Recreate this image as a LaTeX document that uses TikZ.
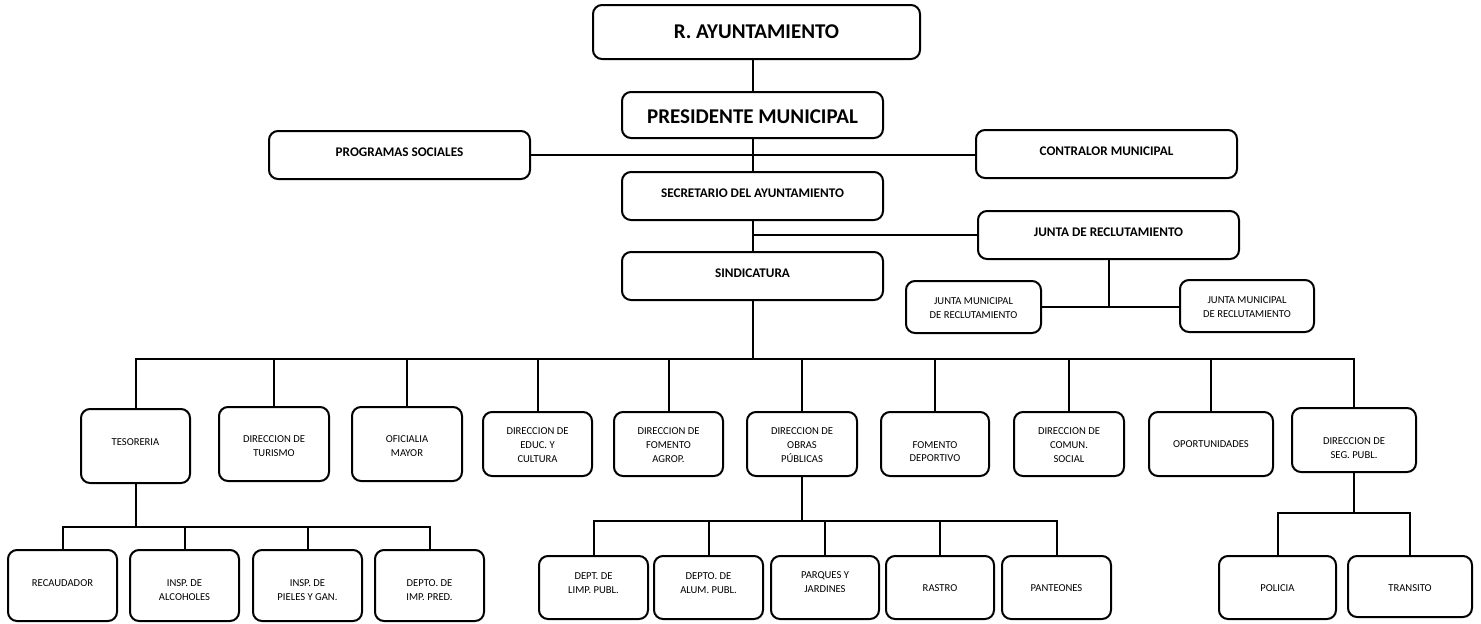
\documentclass[tikz,border=0pt]{standalone}
\usepackage{fontspec}
\setmainfont{Carlito}
\begin{document}
\begin{tikzpicture}[x=1pt,y=-1pt,
  box/.style={draw, line width=2pt, rounded corners=9pt, inner sep=0pt, fill=white},
  conn/.style={line width=2pt},
  bigt/.style={inner sep=0pt, font=\bfseries\fontsize{21}{25}\selectfont},
  midt/.style={inner sep=0pt, font=\bfseries\fontsize{13.2}{16}\selectfont},
  smt/.style={inner sep=0pt, align=center, font=\fontsize{10.6}{13.6}\selectfont}]
\useasboundingbox (0,0) rectangle (1481,624);
\fill[white] (0,0) rectangle (1481,624);

% top column
\node[box, minimum width=327pt, minimum height=54pt] (ayun) at (756.5,32) {};
\node[bigt] (ayunt) at (756.5,32) {R. AYUNTAMIENTO};
\node[box, minimum width=261pt, minimum height=46pt] (pres) at (752.5,115) {};
\node[bigt] (prest) at (752.5,117) {PRESIDENTE MUNICIPAL};
\node[box, minimum width=261pt, minimum height=48pt] (prog) at (399.5,155) {};
\node[midt] (progt) at (399.5,152) {PROGRAMAS SOCIALES};
\node[box, minimum width=261pt, minimum height=48pt] (contr) at (1106.5,154) {};
\node[midt] (contrt) at (1106.5,151) {CONTRALOR MUNICIPAL};
\node[box, minimum width=261pt, minimum height=48pt] (secr) at (752.5,196) {};
\node[midt] (secrt) at (752.5,193) {SECRETARIO DEL AYUNTAMIENTO};
\node[box, minimum width=261pt, minimum height=48pt] (junta) at (1108.5,235) {};
\node[midt] (juntat) at (1108.5,232) {JUNTA DE RECLUTAMIENTO};
\node[box, minimum width=261pt, minimum height=48pt] (sind) at (752.5,276) {};
\node[midt] (sindt) at (752.5,273) {SINDICATURA};
\node[box, minimum width=135pt, minimum height=52pt] (jm1) at (973.5,307) {};
\node[smt] (jm1t) at (973.5,308) {JUNTA MUNICIPAL\\DE RECLUTAMIENTO};
\node[box, minimum width=134pt, minimum height=52pt] (jm2) at (1247,306) {};
\node[smt] (jm2t) at (1247,307) {JUNTA MUNICIPAL\\DE RECLUTAMIENTO};

% second tier
\node[box, minimum width=109pt, minimum height=74pt] (tes) at (135.5,446) {};
\node[smt] (test) at (135.5,442) {TESORERIA};
\node[box, minimum width=110pt, minimum height=74pt] (tur) at (274,444) {};
\node[smt] (turt) at (274,446) {DIRECCION DE\\TURISMO};
\node[box, minimum width=110pt, minimum height=74pt] (ofi) at (407,444) {};
\node[smt] (ofit) at (407,446) {OFICIALIA\\MAYOR};
\node[box, minimum width=109pt, minimum height=64pt] (edu) at (537.5,444) {};
\node[smt] (edut) at (537.5,445) {DIRECCION DE\\EDUC. Y\\CULTURA};
\node[box, minimum width=109pt, minimum height=64pt] (agr) at (668.5,444) {};
\node[smt] (agrt) at (668.5,445) {DIRECCION DE\\FOMENTO\\AGROP.};
\node[box, minimum width=110pt, minimum height=64pt] (obr) at (802,444) {};
\node[smt] (obrt) at (802,445) {DIRECCION DE\\OBRAS\\PÚBLICAS};
\node[box, minimum width=108pt, minimum height=64pt] (dep) at (935,444) {};
\node[smt] (dept) at (935,451.5) {FOMENTO\\DEPORTIVO};
\node[box, minimum width=110pt, minimum height=64pt] (com) at (1069,444) {};
\node[smt] (comt) at (1069,445) {DIRECCION DE\\COMUN.\\SOCIAL};
\node[box, minimum width=124pt, minimum height=64pt] (opo) at (1211,444) {};
\node[smt] (opot) at (1211,444) {OPORTUNIDADES};
\node[box, minimum width=124pt, minimum height=64pt] (seg) at (1354,440) {};
\node[smt] (segt) at (1354,448) {DIRECCION DE\\SEG. PUBL.};

% third tier
\node[box, minimum width=109pt, minimum height=71pt] (rec) at (62.5,585.5) {};
\node[smt] (rect) at (62.5,583) {RECAUDADOR};
\node[box, minimum width=109pt, minimum height=71pt] (alc) at (184.5,585.5) {};
\node[smt] (alct) at (184.5,590) {INSP. DE\\ALCOHOLES};
\node[box, minimum width=109pt, minimum height=71pt] (pie) at (307.5,585.5) {};
\node[smt] (piet) at (307.5,590) {INSP. DE\\PIELES Y GAN.};
\node[box, minimum width=109pt, minimum height=71pt] (imp) at (429.5,585.5) {};
\node[smt] (impt) at (429.5,590) {DEPTO. DE\\IMP. PRED.};

\node[box, minimum width=109pt, minimum height=63pt] (limp) at (593.5,587.5) {};
\node[smt] (limpt) at (593.5,583) {DEPT. DE\\LIMP. PUBL.};
\node[box, minimum width=109pt, minimum height=63pt] (alum) at (708.5,587.5) {};
\node[smt] (alumt) at (708.5,583) {DEPTO. DE\\ALUM. PUBL.};
\node[box, minimum width=108pt, minimum height=63pt] (parq) at (825,587.5) {};
\node[smt] (parqt) at (825,582) {PARQUES Y\\JARDINES};
\node[box, minimum width=108pt, minimum height=63pt] (ras) at (940,587.5) {};
\node[smt] (rast) at (940,588) {RASTRO};
\node[box, minimum width=109pt, minimum height=63pt] (pan) at (1056.5,587.5) {};
\node[smt] (pant) at (1056.5,588) {PANTEONES};

\node[box, minimum width=117pt, minimum height=63pt] (pol) at (1277.5,587.5) {};
\node[smt] (polt) at (1277.5,588) {POLICIA};
\node[box, minimum width=124pt, minimum height=61pt] (tra) at (1410,586.5) {};
\node[smt] (trat) at (1410,588) {TRANSITO};

% connectors top
\draw[conn] (pres.north) -- (pres.north |- ayun.south);
\draw[conn] (pres.south) -- (secr.north);
\draw[conn] (secr.south) -- (sind.north);
\draw[conn] (prog.east) -- (prog.east -| contr.west);
\draw[conn] (junta.west) -- (junta.west -| secr.south);
\draw[conn] (junta.south) -- (junta.south |- jm1.east);
\draw[conn] (jm1.east) -- (jm1.east -| jm2.west);

% main bus
\coordinate (b1) at (752.5,359);
\draw[conn] (sind.south) -- (b1);
\draw[conn] (tes.north) -- (tes.north |- b1) -- (seg.north |- b1) -- (seg.north);
\foreach \n in {tur,ofi,edu,agr,obr,dep,com,opo}
  \draw[conn] (\n.north) -- (\n.north |- b1);

% tesoreria bus
\coordinate (b2) at (135.5,527);
\draw[conn] (tes.south) -- (b2);
\draw[conn] (rec.north) -- (rec.north |- b2) -- (imp.north |- b2) -- (imp.north);
\foreach \n in {alc,pie}
  \draw[conn] (\n.north) -- (\n.north |- b2);

% obras bus
\coordinate (b3) at (802,521);
\draw[conn] (obr.south) -- (b3);
\draw[conn] (limp.north) -- (limp.north |- b3) -- (pan.north |- b3) -- (pan.north);
\foreach \n in {alum,parq,ras}
  \draw[conn] (\n.north) -- (\n.north |- b3);

% seguridad bus
\coordinate (b4) at (1354,513);
\draw[conn] (seg.south) -- (b4);
\draw[conn] (pol.north) -- (pol.north |- b4) -- (tra.north |- b4) -- (tra.north);
\end{tikzpicture}
\end{document}
